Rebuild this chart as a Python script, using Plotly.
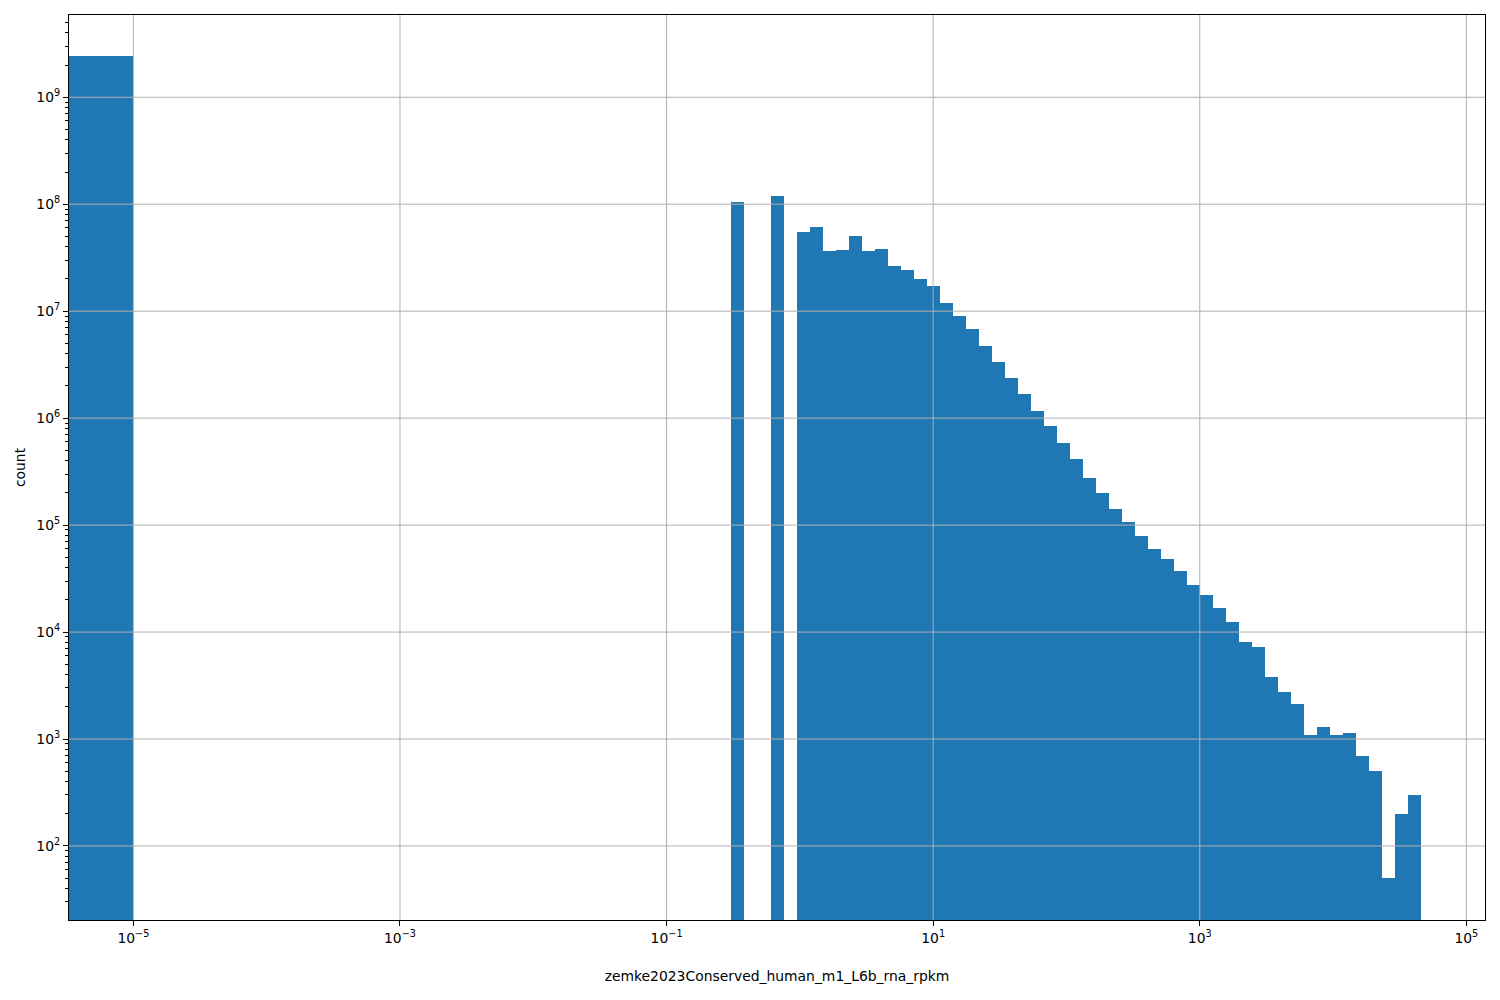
import numpy as np
import plotly.graph_objects as go

# ---- data -----------------------------------------------------------
x_label = "zemke2023Conserved_human_m1_L6b_rna_rpkm"
y_label = "count"

# log10 bin edges of the histogram (99 log-spaced bins) + a bin holding zeros
LOG_MIN = -5.0
LOG_MAX = 4.657
N_BINS = 99
ZERO_BIN_LEFT = -5.7          # zero-valued bin extends off the left edge
zero_bin_count = 2.43e9

counts = [None] * 46 + [
    1.05e8, None, None, 1.19e8, None,
    5.5e7, 6.1e7, 3.66e7, 3.73e7, 5.05e7, 3.66e7, 3.82e7, 2.65e7, 2.43e7, 2.0e7,
    1.72e7, 1.19e7, 9.0e6, 6.82e6, 4.73e6, 3.35e6, 2.38e6, 1.68e6, 1.17e6, 8.45e5,
    5.86e5, 4.15e5, 2.76e5, 2.0e5, 1.42e5, 1.07e5, 7.91e4, 5.98e4, 4.82e4, 3.72e4,
    2.75e4, 2.22e4, 1.68e4, 1.24e4, 8070, 7250, 3800, 2750, 2130, 1090,
    1290, 1090, 1140, 693, 502, 50, 199, 299,
]

x_tick_exps = [-5, -3, -1, 1, 3, 5]
y_tick_exps = [2, 3, 4, 5, 6, 7, 8, 9]
x_range = [-5.483, 5.14]
y_range_log = [1.308, 9.769]

# ---- derived --------------------------------------------------------
edges = np.linspace(LOG_MIN, LOG_MAX, N_BINS + 1)
centers = list((edges[:-1] + edges[1:]) / 2)
widths = list(np.diff(edges))

all_x = [(ZERO_BIN_LEFT + LOG_MIN) / 2] + centers
all_w = [LOG_MIN - ZERO_BIN_LEFT] + widths
all_y = [zero_bin_count] + counts

def sup(e):
    s = str(e).replace("-", "\u2212")
    return f"10<sup>{s}</sup>"

FONT = "DejaVu Sans"
BLUE = "#1f77b4"
GRID = "#b0b0b0"

fig = go.Figure()
fig.add_trace(go.Bar(
    x=all_x, y=all_y, width=all_w,
    marker=dict(color=BLUE, line=dict(width=0)),
    showlegend=False,
))

minor_vals = [k * 10 ** e for e in range(1, 10) for k in range(2, 10)]

shapes = []
for e in x_tick_exps:
    shapes.append(dict(type="line", xref="x", yref="paper", x0=e, x1=e, y0=0, y1=1,
                       line=dict(color=GRID, width=1), layer="above"))
for e in y_tick_exps:
    shapes.append(dict(type="line", xref="paper", yref="y", x0=0, x1=1, y0=10 ** e, y1=10 ** e,
                       line=dict(color=GRID, width=1), layer="above"))

# the page body adds an 8px offset, so the figure is 8px smaller and margins shifted
fig.update_layout(
    width=1492, height=992,
    margin=dict(l=61, r=15, t=7, b=80, autoexpand=False),
    paper_bgcolor="white", plot_bgcolor="white",
    bargap=0,
    font=dict(family=FONT, size=13.9, color="black"),
    shapes=shapes,
    xaxis=dict(
        type="linear", range=x_range,
        tickmode="array", tickvals=x_tick_exps, ticktext=[sup(e) for e in x_tick_exps],
        ticks="outside", ticklen=5, tickwidth=1, tickcolor="black",
        showgrid=False, zeroline=False,
        showline=True, linecolor="black", linewidth=1, mirror=True,
        layer="above traces",
        title=dict(text=x_label, standoff=26, font=dict(size=13.9)),
    ),
    yaxis=dict(
        type="log", range=y_range_log,
        tickmode="array", tickvals=[10 ** e for e in y_tick_exps],
        ticktext=[sup(e) for e in y_tick_exps],
        ticks="outside", ticklen=5, tickwidth=1, tickcolor="black",
        minor=dict(tickmode="array", tickvals=minor_vals, ticks="outside",
                   ticklen=3, tickwidth=1, tickcolor="black", showgrid=False),
        showgrid=False, zeroline=False,
        showline=True, linecolor="black", linewidth=1, mirror=True,
        layer="above traces",
        title=dict(text=y_label, standoff=7, font=dict(size=13.9)),
    ),
)

fig.write_html("out.html")
